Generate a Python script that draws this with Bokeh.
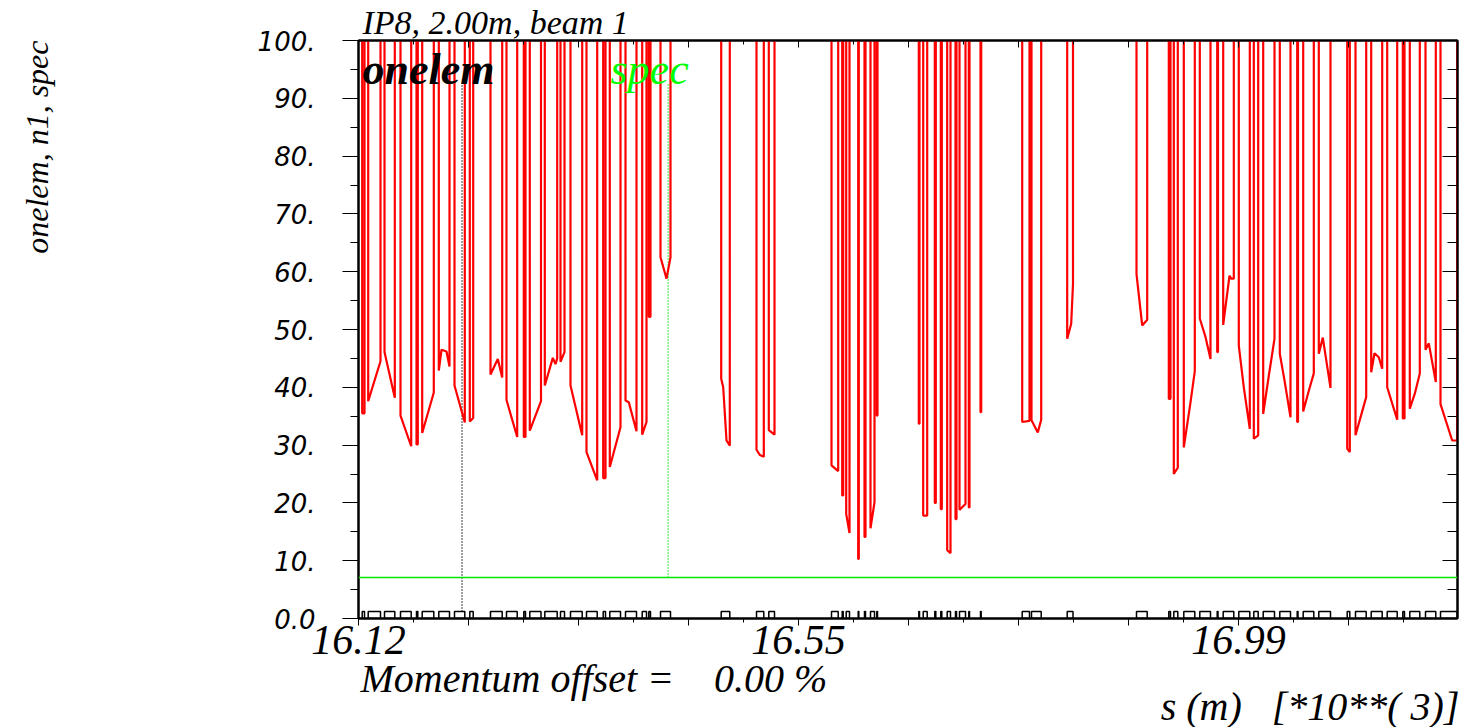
import math
from bokeh.plotting import figure
from bokeh.models import Range1d, LinearAxis, FixedTicker, Label, Span, Title
from bokeh.embed import file_html
from bokeh.resources import INLINE

nan = float("nan")

# Aperture n1 along s (metres).  Each element is a run of points separated by NaN;
# outside the elements the aperture is unlimited and the curve leaves the top of the plot.
s_pos = [
    16118.7, 16121.0, nan,
    16124.7, 16137.0, nan,
    16141.0, 16151.3, nan,
    16157.0, 16167.7, nan,
    16173.0, 16174.3, nan,
    16178.7, 16190.3, nan,
    16195.3, 16198.0, 16203.0, 16206.0, nan,
    16211.0, 16221.3, nan,
    16226.3, 16229.7, nan,
    16247.0, 16254.3, 16258.7, nan,
    16263.0, 16273.7, nan,
    16280.3, 16282.0, nan,
    16286.3, 16297.5, nan,
    16301.3, 16309.3, 16312.0, 16313.7, nan,
    16317.0, 16321.0, nan,
    16327.0, 16338.7, nan,
    16343.0, 16353.7, nan,
    16359.7, 16362.0, nan,
    16366.3, 16377.0, nan,
    16382.0, 16385.3, 16393.0, nan,
    16398.7, 16403.0, nan,
    16405.3, 16407.0, nan,
    16417.0, 16423.0, 16427.0, nan,
    16477.7, 16479.7, 16483.0, 16486.3, nan,
    16513.0, 16516.3, 16520.3, nan,
    16525.3, 16531.0, nan,
    16588.0, 16594.7, nan,
    16598.7, 16599.7, nan,
    16602.7, 16606.0, nan,
    16614.7, 16615.3, nan,
    16621.0, 16622.0, nan,
    16627.0, 16631.0, nan,
    16633.3, 16634.0, nan,
    16675.3, 16676.0, nan,
    16679.7, 16683.7, nan,
    16691.3, 16692.3, nan,
    16697.3, 16698.3, nan,
    16703.7, 16707.0, nan,
    16712.0, 16713.0, nan,
    16716.0, 16722.0, nan,
    16725.3, 16726.0, nan,
    16737.0, 16737.7, nan,
    16778.7, 16786.0, nan,
    16788.0, 16794.3, 16797.7, nan,
    16823.7, 16827.7, 16829.5, nan,
    16893.0, 16898.7, 16903.7, nan,
    16925.3, 16927.0, nan,
    16930.3, 16934.3, nan,
    16940.3, 16947.0, 16951.3, nan,
    16956.3, 16962.0, 16967.0, nan,
    16973.7, 16974.5, nan,
    16979.7, 16986.0, 16987.7, 16990.3, nan,
    16995.3, 17000.3, 17006.3, nan,
    17010.3, 17014.7, nan,
    17019.7, 17025.3, 17031.0, nan,
    17036.3, 17041.0, 17047.0, nan,
    17053.7, 17054.5, nan,
    17059.7, 17065.3, 17070.3, nan,
    17075.3, 17079.3, 17087.0, nan,
    17103.7, 17106.3, nan,
    17112.0, 17117.0, 17122.7, nan,
    17127.7, 17131.0, 17135.3, 17138.7, nan,
    17143.7, 17153.7, nan,
    17159.3, 17161.0, nan,
    17166.3, 17171.3, 17176.3, nan,
    17182.0, 17185.3, 17192.3, nan,
    17197.0, 17208.7, 17213.7,
]

n1 = [
    35.5, 35.5, nan,
    37.6, 44.5, nan,
    46.1, 38.2, nan,
    35.1, 29.8, nan,
    30.1, 30.1, nan,
    32.1, 39.1, nan,
    42.9, 46.5, 46.2, 43.6, nan,
    40.3, 33.9, nan,
    34.1, 34.7, nan,
    42.2, 44.9, 41.7, nan,
    37.8, 31.4, nan,
    31.4, 31.4, nan,
    32.5, 37.6, nan,
    40.3, 45.1, 44.0, 45.0, nan,
    44.4, 46.1, nan,
    40.3, 31.7, nan,
    28.8, 23.9, nan,
    24.3, 24.3, nan,
    26.2, 33.1, nan,
    37.7, 37.4, 32.4, nan,
    31.8, 34.0, nan,
    52.2, 52.2, nan,
    62.5, 58.8, 62.5, nan,
    41.5, 40.0, 30.8, 29.9, nan,
    29.2, 28.3, 28.0, nan,
    32.6, 31.8, nan,
    26.5, 25.5, nan,
    21.3, 21.3, nan,
    18.1, 14.8, nan,
    10.3, 10.3, nan,
    14.1, 14.1, nan,
    15.6, 20.1, nan,
    35.1, 35.1, nan,
    33.7, 33.7, nan,
    17.8, 17.8, nan,
    20.0, 20.0, nan,
    18.9, 18.9, nan,
    11.8, 11.3, nan,
    17.2, 17.2, nan,
    18.8, 19.8, nan,
    19.2, 19.2, nan,
    35.7, 35.7, nan,
    34.0, 34.2, nan,
    34.3, 32.2, 34.4, nan,
    48.4, 51.0, 57.9, nan,
    59.6, 50.7, 51.7, nan,
    38.0, 38.0, nan,
    25.0, 26.1, nan,
    29.6, 37.4, 42.8, nan,
    51.9, 48.7, 44.9, nan,
    46.1, 46.1, nan,
    50.8, 59.3, 58.8, 58.8, nan,
    47.2, 40.0, 32.8, nan,
    31.1, 31.7, nan,
    35.4, 42.0, 48.4, nan,
    45.8, 41.2, 34.8, nan,
    34.0, 34.0, nan,
    35.8, 39.4, 42.4, nan,
    45.8, 48.6, 39.9, nan,
    29.4, 28.8, nan,
    31.7, 34.8, 38.3, nan,
    42.6, 45.9, 45.2, 43.2, nan,
    40.0, 34.4, nan,
    34.6, 34.6, nan,
    36.3, 38.9, 42.4, nan,
    46.5, 47.6, 40.9, nan,
    37.1, 30.8, 30.8,
]

spec_n1 = 7.1            # required aperture
onelem_s = 16218.5       # "onelem" marker position
spec_s = 16424.7         # "spec" marker position
marker_top = 92.5        # upper end of the dotted marker lines
layout_height = 1.2      # height of the element boxes on the s axis
unlimited = 1000.0       # aperture value used outside elements

s_start, s_end = 16115.0, 17214.0
s_major = [16115 + 110 * k for k in range(10)]
s_minor = [16170 + 110 * k for k in range(10)]
s_labels = {16115: "16.12", 16555: "16.55", 16995: "16.99"}
y_major = list(range(0, 101, 10))
y_minor = list(range(5, 100, 10))
y_labels = ["0.0", "10.", "20.", "30.", "40.", "50.", "60.", "70.", "80.", "90.", "100."]

NB = "\u00a0"
title_text = "IP8, 2.00m, beam 1"
ylabel_text = "onelem, n1, spec"
momentum_text = "Momentum offset =" + NB * 4 + "0.00 %"
s_label_text = "s (m)" + NB * 3 + "[*10**(" + NB + "3)]"

# build the n1 polyline and the element boxes from the runs
line_x, line_y = [], []
box_l, box_r = [], []
run_s, run_v = [], []
for s, v in list(zip(s_pos, n1)) + [(nan, nan)]:
    if math.isnan(s):
        if run_s:
            line_x += [run_s[0]] + run_s + [run_s[-1]]
            line_y += [unlimited] + run_v + [unlimited]
            box_l.append(run_s[0])
            box_r.append(run_s[-1])
        run_s, run_v = [], []
    else:
        run_s.append(s)
        run_v.append(v)

serif = "Liberation Serif"

p = figure(width=1471, height=727, output_backend="svg", toolbar_location=None,
           x_range=Range1d(s_start, s_end), y_range=Range1d(0, 100),
           x_axis_location=None, y_axis_location=None,
           min_border_left=358, min_border_right=14, min_border_top=40, min_border_bottom=109)
p.grid.visible = False
p.outline_line_color = "black"
p.outline_line_width = 2
p.background_fill_color = "white"
p.border_fill_color = "white"

p.title.text = title_text
p.title.align = "left"
p.title.offset = 4
p.title.standoff = 0
p.title.text_font = serif
p.title.text_font_style = "italic"
p.title.text_font_size = "34px"
p.title.text_color = "black"

# axes
xb = LinearAxis(ticker=FixedTicker(ticks=s_major, minor_ticks=s_minor))
xb.major_label_overrides = {t: s_labels.get(t, "") for t in s_major}
xb.major_tick_out = 7
xb.major_tick_in = 0
xb.minor_tick_out = 4
xb.minor_tick_in = 0
xb.major_label_standoff = 0
xb.major_label_text_font = serif
xb.major_label_text_font_style = "italic"
xb.major_label_text_font_size = "42px"
xb.major_label_text_color = "black"
xb.axis_line_width = 2
p.add_layout(xb, "below")

xt = LinearAxis(ticker=FixedTicker(ticks=s_major, minor_ticks=s_minor))
xt.major_label_overrides = {t: "" for t in s_major}
xt.major_label_standoff = 0
xt.major_tick_out = 0
xt.major_tick_in = 7
xt.minor_tick_out = 0
xt.minor_tick_in = 4
xt.axis_line_width = 2
p.add_layout(xt, "above")

yl = LinearAxis(ticker=FixedTicker(ticks=y_major, minor_ticks=y_minor))
yl.major_label_overrides = dict(zip(y_major, y_labels))
yl.major_tick_out = 16
yl.major_tick_in = 0
yl.minor_tick_out = 8
yl.minor_tick_in = 0
yl.major_label_standoff = 27
yl.major_label_text_font = "DejaVu Sans"
yl.major_label_text_font_style = "italic"
yl.major_label_text_font_size = "26px"
yl.major_label_text_color = "black"
yl.axis_line_width = 2
p.add_layout(yl, "left")

# invisible spacer axis that keeps the vertical title away from the tick labels
gap = LinearAxis(ticker=FixedTicker(ticks=[50], minor_ticks=[]))
gap.major_label_overrides = {50: ""}
gap.axis_line_color = None
gap.major_tick_line_color = None
gap.minor_tick_line_color = None
gap.major_tick_out = 200
gap.major_tick_in = 0
gap.minor_tick_out = 0
gap.minor_tick_in = 0
gap.major_label_standoff = 0
p.add_layout(gap, "left")

p.add_layout(Title(text=ylabel_text, align="right", offset=0, standoff=0,
                   text_font=serif, text_font_style="italic", text_font_size="32px",
                   text_color="black"), "left")

yr = LinearAxis(ticker=FixedTicker(ticks=y_major, minor_ticks=y_minor))
yr.major_label_overrides = {t: "" for t in y_major}
yr.major_label_standoff = 0
yr.major_tick_out = 0
yr.major_tick_in = 15
yr.minor_tick_out = 0
yr.minor_tick_in = 10
yr.axis_line_width = 2
p.add_layout(yr, "right")

# texts below the frame
p.add_layout(Title(text=momentum_text, align="left", offset=2, standoff=-6,
                   text_font=serif, text_font_style="italic", text_font_size="40px",
                   text_color="black"), "below")
p.add_layout(Title(text=s_label_text, align="right", offset=-2, standoff=-32,
                   text_font=serif, text_font_style="italic", text_font_size="40px",
                   text_color="black"), "below")

# required aperture and marker lines
p.add_layout(Span(location=spec_n1, dimension="width", line_color="#00e600", line_width=1.5))
p.segment(x0=[onelem_s], y0=[layout_height], x1=[onelem_s], y1=[marker_top],
          line_color="black", line_width=1.5, line_dash="1 2")
p.segment(x0=[spec_s], y0=[spec_n1], x1=[spec_s], y1=[marker_top],
          line_color="#00e600", line_width=1.5, line_dash="1 2")

# n1 curve
p.line(line_x, line_y, line_color="#ff0000", line_width=2.2)

# machine layout
p.quad(left=box_l, right=box_r, bottom=0, top=layout_height,
       fill_color=None, line_color="black", line_width=1.5)

# curve legend inside the frame
p.add_layout(Label(x=4, y=525, x_units="screen", y_units="screen", text="onelem",
                   text_font=serif, text_font_style="bold italic", text_font_size="44px",
                   text_color="black"))
p.add_layout(Label(x=252, y=525, x_units="screen", y_units="screen", text="spec",
                   text_font=serif, text_font_style="italic", text_font_size="44px",
                   text_color="#00ff00"))

open("out.html", "w").write(file_html(p, INLINE))
